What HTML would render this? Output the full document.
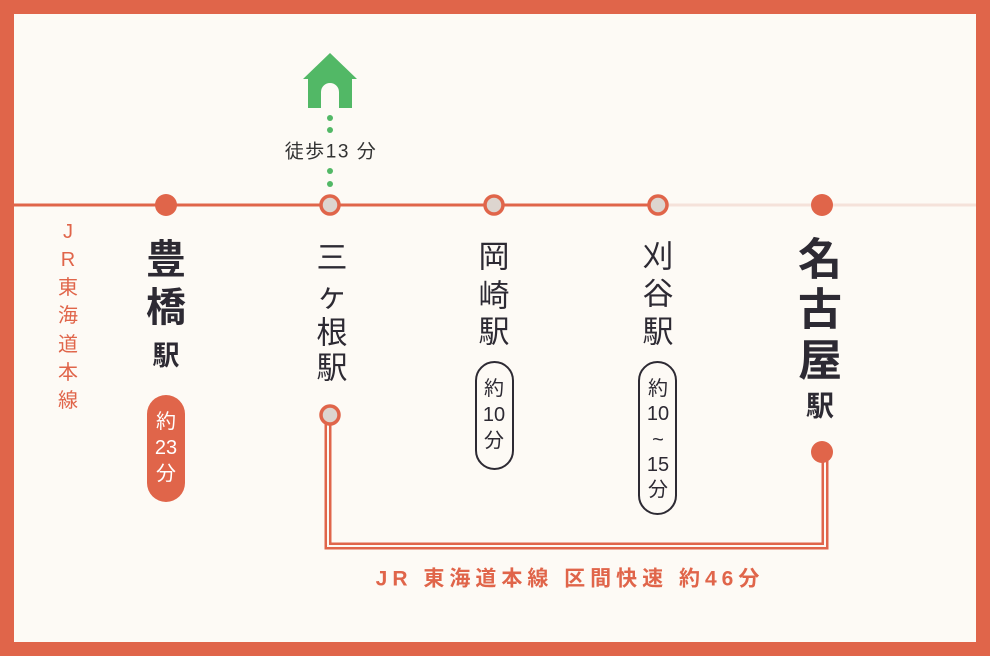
<!DOCTYPE html>
<html><head><meta charset="utf-8"><style>
html,body{margin:0;padding:0;background:#e0654a}
svg{display:block}
text{font-family:"Liberation Sans","Noto Sans CJK JP",sans-serif}
</style></head><body>
<svg width="990" height="656" viewBox="0 0 990 656" xmlns="http://www.w3.org/2000/svg">
<rect x="0" y="0" width="990" height="656" fill="#e0654a"/>
<rect x="14" y="14" width="962" height="628" fill="#fdfaf5"/>
<line x1="14" y1="205" x2="658" y2="205" stroke="#e0654a" stroke-width="3"/>
<line x1="658" y1="205" x2="976" y2="205" stroke="#f5e2da" stroke-width="3"/>
<path d="M330 53 L357 79 L352 79 L352 108 L339 108 L339 92 A9 9 0 0 0 321 92 L321 108 L308 108 L308 79 L303 79 Z" fill="#52b866"/>
<g fill="#52b866"><circle cx="330" cy="118" r="3"/><circle cx="330" cy="130" r="3"/><circle cx="330" cy="171" r="3"/><circle cx="330" cy="184" r="3"/></g>
<text x="331" y="152" text-anchor="middle" dominant-baseline="central" font-size="19" fill="#333" letter-spacing="1.5">徒歩13 分</text>
<circle cx="166" cy="205" r="11" fill="#e0654a"/>
<circle cx="330" cy="205" r="9" fill="#ddd5cf" stroke="#e0654a" stroke-width="3.5"/>
<circle cx="494" cy="205" r="9" fill="#ddd5cf" stroke="#e0654a" stroke-width="3.5"/>
<circle cx="658" cy="205" r="9" fill="#ddd5cf" stroke="#e0654a" stroke-width="3.5"/>
<circle cx="822" cy="205" r="11" fill="#e0654a"/>
<path d="M328 416 V546 H825 V452" fill="none" stroke="#e0654a" stroke-width="7"/>
<path d="M328 416 V546 H825 V452" fill="none" stroke="#fdfaf5" stroke-width="2"/>
<circle cx="330" cy="415" r="9" fill="#ddd5cf" stroke="#e0654a" stroke-width="3.5"/>
<circle cx="822" cy="452" r="11" fill="#e0654a"/>
<g fill="#e0654a" font-size="20" text-anchor="middle" dominant-baseline="central">
<text x="68" y="232">J</text><text x="68" y="260">R</text><text x="68" y="288">東</text><text x="68" y="316">海</text><text x="68" y="345">道</text><text x="68" y="373">本</text><text x="68" y="401">線</text>
</g>
<g fill="#2d2a33" text-anchor="middle" dominant-baseline="central">
<text x="166" y="260" font-size="40" font-weight="bold">豊</text>
<text x="166" y="308" font-size="40" font-weight="bold">橋</text>
<text x="166" y="356" font-size="27" font-weight="bold">駅</text>
<text x="332" y="258" font-size="31">三</text>
<text x="332" y="296" font-size="31">ヶ</text>
<text x="332" y="333" font-size="31">根</text>
<text x="332" y="368" font-size="31">駅</text>
<text x="494" y="257" font-size="31">岡</text>
<text x="494" y="296" font-size="31">崎</text>
<text x="494" y="332" font-size="31">駅</text>
<text x="658" y="257" font-size="31">刈</text>
<text x="658" y="294" font-size="31">谷</text>
<text x="658" y="332" font-size="31">駅</text>
<text x="820" y="260" font-size="44" font-weight="bold">名</text>
<text x="820" y="310" font-size="44" font-weight="bold">古</text>
<text x="820" y="361" font-size="44" font-weight="bold">屋</text>
<text x="820" y="406" font-size="28" font-weight="bold">駅</text>
</g>
<rect x="147" y="395" width="38" height="107" rx="19" fill="#e0654a"/>
<g fill="#fff" font-size="20" text-anchor="middle" dominant-baseline="central">
<text x="166" y="422">約</text><text x="166" y="448">23</text><text x="166" y="474">分</text>
</g>
<rect x="476" y="362" width="37" height="107" rx="18.5" fill="#fdfaf5" stroke="#2d2a33" stroke-width="2"/>
<g fill="#2d2a33" font-size="20" text-anchor="middle" dominant-baseline="central">
<text x="494" y="389">約</text><text x="494" y="415">10</text><text x="494" y="441">分</text>
</g>
<rect x="639" y="362" width="37" height="152" rx="18.5" fill="#fdfaf5" stroke="#2d2a33" stroke-width="2"/>
<g fill="#2d2a33" font-size="20" text-anchor="middle" dominant-baseline="central">
<text x="658" y="389">約</text><text x="658" y="414">10</text><text x="658" y="440">~</text><text x="658" y="465">15</text><text x="658" y="490">分</text>
</g>
<text x="570" y="579" text-anchor="middle" dominant-baseline="central" font-size="21" font-weight="bold" fill="#e0654a" letter-spacing="5">JR 東海道本線 区間快速 約46分</text>
</svg>
</body></html>
